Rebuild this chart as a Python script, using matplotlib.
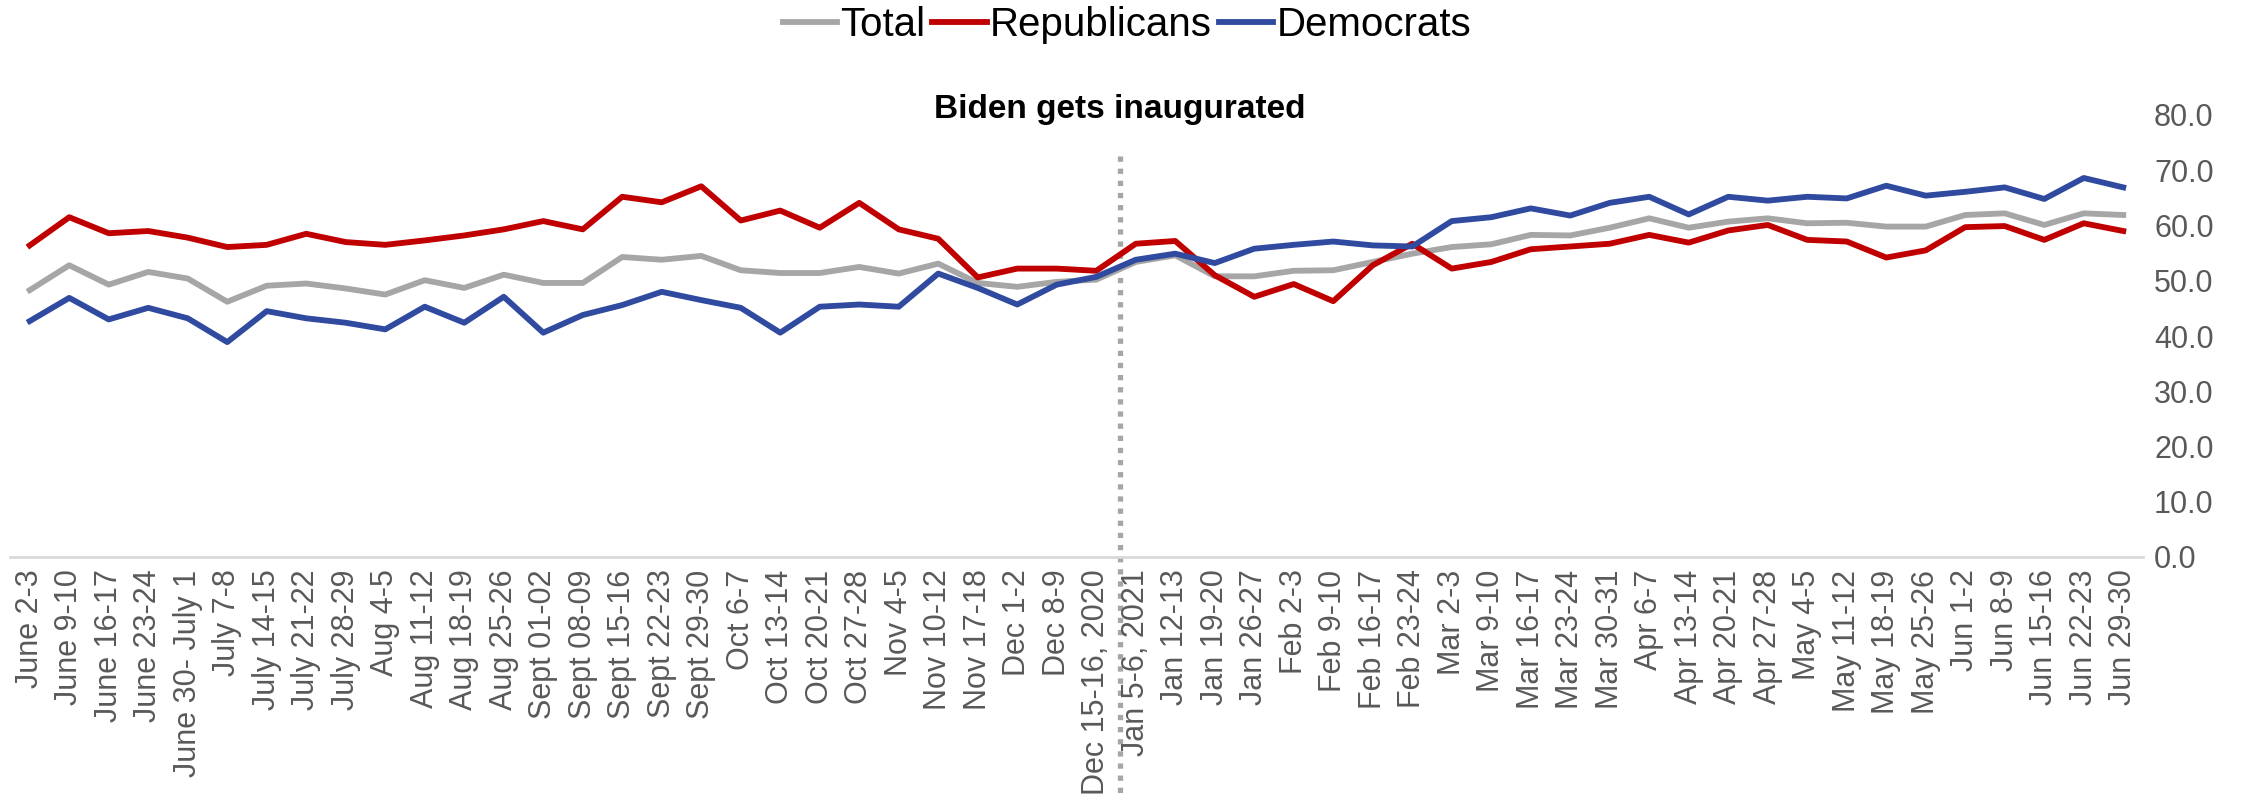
import matplotlib
matplotlib.use("Agg")
import matplotlib.pyplot as plt
import numpy as np

weeks = ["June 2-3", "June 9-10", "June 16-17", "June 23-24", "June 30- July 1",
         "July 7-8", "July 14-15", "July 21-22", "July 28-29", "Aug 4-5",
         "Aug 11-12", "Aug 18-19", "Aug 25-26", "Sept 01-02", "Sept 08-09",
         "Sept 15-16", "Sept 22-23", "Sept 29-30", "Oct 6-7", "Oct 13-14",
         "Oct 20-21", "Oct 27-28", "Nov 4-5", "Nov 10-12", "Nov 17-18",
         "Dec 1-2", "Dec 8-9", "Dec 15-16, 2020", "Jan 5-6, 2021", "Jan 12-13",
         "Jan 19-20", "Jan 26-27", "Feb 2-3", "Feb 9-10", "Feb 16-17",
         "Feb 23-24", "Mar 2-3", "Mar 9-10", "Mar 16-17", "Mar 23-24",
         "Mar 30-31", "Apr 6-7", "Apr 13-14", "Apr 20-21", "Apr 27-28",
         "May 4-5", "May 11-12", "May 18-19", "May 25-26", "Jun 1-2",
         "Jun 8-9", "Jun 15-16", "Jun 22-23", "Jun 29-30"]

total = [48.3, 52.8, 49.3, 51.6, 50.4, 46.2, 49.1, 49.5, 48.6, 47.5,
         50.1, 48.7, 51.1, 49.6, 49.6, 54.3, 53.8, 54.5, 51.9, 51.4,
         51.4, 52.5, 51.3, 53.1, 49.6, 48.9, 49.8, 50.2, 53.4, 54.6,
         50.8, 50.8, 51.8, 51.9, 53.4, 54.9, 56.1, 56.6, 58.3, 58.2,
         59.6, 61.3, 59.6, 60.7, 61.3, 60.4, 60.5, 59.8, 59.8, 61.9,
         62.2, 60.1, 62.2, 61.9]

republicans = [56.4, 61.5, 58.6, 59.0, 57.8, 56.1, 56.5, 58.5, 57.0, 56.5,
               57.3, 58.2, 59.3, 60.8, 59.3, 65.2, 64.2, 67.1, 60.9, 62.7,
               59.6, 64.1, 59.3, 57.6, 50.6, 52.2, 52.2, 51.8, 56.7, 57.2,
               51.0, 47.1, 49.4, 46.3, 52.8, 56.7, 52.2, 53.4, 55.7, 56.2,
               56.7, 58.3, 56.9, 59.1, 60.1, 57.4, 57.1, 54.2, 55.5, 59.7,
               59.9, 57.4, 60.4, 59.0]

democrats = [42.7, 46.9, 43.0, 45.1, 43.2, 38.9, 44.5, 43.2, 42.4, 41.2,
             45.3, 42.4, 47.1, 40.6, 43.8, 45.6, 48.0, 46.5, 45.1, 40.6,
             45.3, 45.7, 45.3, 51.3, 48.7, 45.7, 49.3, 50.7, 53.8, 54.9,
             53.2, 55.8, 56.5, 57.1, 56.4, 56.2, 60.8, 61.5, 63.1, 61.8,
             64.1, 65.2, 62.0, 65.2, 64.5, 65.2, 64.9, 67.2, 65.4, 66.1,
             66.9, 64.8, 68.6, 66.9]

inauguration = 27.6   # between Dec 15-16 and Jan 5-6
yticks = np.arange(0, 81, 10)

sans = ["Liberation Sans", "DejaVu Sans"]
grey_txt = "#595959"

fig = plt.figure(figsize=(22.59, 7.95), dpi=100)
ax = fig.add_axes([10 / 2259, (795 - 557) / 795, 2133 / 2259, (557 - 115) / 795])

x = np.arange(len(weeks))
ax.plot(x, total, color="#A6A6A6", lw=4.2, label="Total")
ax.plot(x, republicans, color="#C00000", lw=4.2, label="Republicans")
ax.plot(x, democrats, color="#2F4A9F", lw=4.2, label="Democrats")

# inauguration marker, runs down through the tick labels
ax.plot([inauguration, inauguration], [72.5, -43], color="#A6A6A6", lw=3.8,
        linestyle=(0, (1, 1.3)), dash_capstyle="butt", clip_on=False, zorder=1)
ax.text(inauguration, 81, "Biden gets inaugurated", ha="center", va="center",
        fontsize=24, fontweight="bold", family=sans, clip_on=False)

ax.set_xlim(-0.5, len(weeks) - 0.5)
ax.set_ylim(0, 80)
ax.set_xticks(x)
ax.set_xticklabels(weeks, rotation=90, fontsize=22, color=grey_txt, family=sans)
ax.set_yticks(yticks)
ax.set_yticklabels([f"{v:.1f}" for v in yticks], fontsize=22, color=grey_txt,
                   family=sans)
ax.yaxis.tick_right()
ax.tick_params(axis="both", length=0)
ax.tick_params(axis="x", pad=9)
ax.tick_params(axis="y", pad=8)

for side in ["top", "left", "right"]:
    ax.spines[side].set_visible(False)
ax.spines["bottom"].set_color("#D9D9D9")
ax.spines["bottom"].set_linewidth(2)

fig.legend(loc="center", bbox_to_anchor=(1127 / 2259, 0.969), ncol=3, frameon=False,
           prop={"family": sans, "size": 29}, handlelength=1.35,
           handletextpad=0.08, columnspacing=0.17, borderaxespad=0)

fig.savefig("out.png", dpi=100)
